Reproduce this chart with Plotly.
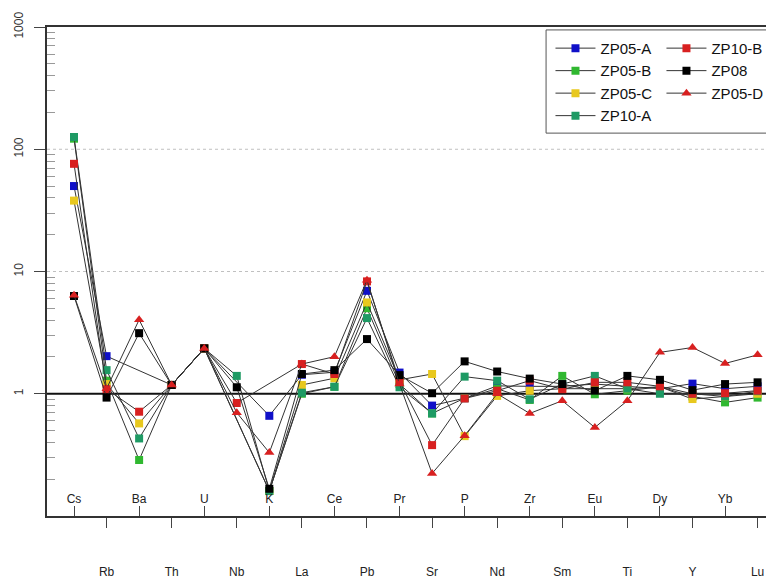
import plotly.graph_objects as go

elements = ["Cs", "Rb", "Ba", "Th", "U", "Nb", "K", "La", "Ce", "Pb", "Pr",
            "Sr", "P", "Nd", "Zr", "Sm", "Eu", "Ti", "Dy", "Y", "Yb", "Lu"]

zp05_a = [50, 2.03, None, 1.18, 2.35, None, 0.66, 1.43, 1.50, 6.95, 1.49,
          0.80, 0.92, 1.16, 1.15, 1.15, 1.20, 1.15, 1.10, 1.21, 1.10, 1.15]
zp05_b = [122, 1.28, 0.287, 1.18, 2.35, None, 0.16, 1.00, 1.14, 5.00, 1.20,
          0.69, 0.92, 1.10, 0.89, 1.40, 0.99, 1.06, 1.14, 0.95, 0.85, 0.93]
zp05_c = [38, 1.20, 0.572, 1.18, 2.35, None, 0.16, 1.18, 1.34, 5.58, 1.30,
          1.45, 0.45, 0.96, 1.06, 1.10, 1.10, 1.10, 1.14, 0.905, 0.95, 1.00]
zp10_a = [126, 1.56, 0.431, 1.18, 2.35, 1.40, 0.16, 1.02, 1.14, 4.16, 1.13,
          0.69, 1.38, 1.28, 0.90, 1.20, 1.40, 1.10, 1.00, 1.00, 0.95, 1.05]
zp10_b = [76, 1.09, 0.713, 1.18, 2.35, 0.84, None, 1.75, 1.45, 8.30, 1.26,
          0.38, 0.915, 1.06, 1.28, 1.09, 1.24, 1.24, 1.15, 1.00, 1.01, 1.06]
zp08 = [6.3, 0.93, 3.13, 1.18, 2.35, 1.13, 0.167, 1.45, 1.56, 2.80, 1.42,
        1.01, 1.84, 1.52, 1.33, 1.20, 1.06, 1.40, 1.30, 1.07, 1.20, 1.24]
zp05_d = [6.4, 1.10, 4.03, 1.18, 2.35, 0.70, 0.33, 1.75, 2.01, 8.50, 1.20,
          0.223, 0.454, 1.00, 0.69, 0.877, 0.53, 0.877, 2.18, 2.39, 1.77, 2.08]

y_ticks = [0.1, 1, 10, 100, 1000]
y_tick_text = ["0.1", "1", "10", "100", "1000"]
dotted_grid = [10, 100]
reference_level = 1

series = [
    ("ZP05-A", zp05_a, "#1010C8", "square", "legend"),
    ("ZP05-B", zp05_b, "#30B830", "square", "legend"),
    ("ZP05-C", zp05_c, "#E8C81E", "square", "legend"),
    ("ZP10-A", zp10_a, "#1E9A64", "square", "legend"),
    ("ZP10-B", zp10_b, "#D82020", "square", "legend2"),
    ("ZP08", zp08, "#000000", "square", "legend2"),
    ("ZP05-D", zp05_d, "#D82020", "triangle-up", "legend2"),
]

idx = list(range(len(elements)))

fig = go.Figure()
for name, vals, col, sym, leg in series:
    fig.add_trace(go.Scatter(
        x=idx, y=vals, name=name, mode="lines+markers", connectgaps=True,
        line=dict(color="#333333", width=1),
        marker=dict(color=col, symbol=sym, size=9 if sym != "square" else 8,
                    line=dict(width=0)),
        legend=leg,
    ))

minor_vals = []
for dec in [0.1, 1, 10, 100]:
    for m in range(2, 10):
        minor_vals.append(dec * m)

odd_idx = [i for i in idx if i % 2 == 1]
even_idx = [i for i in idx if i % 2 == 0]

lab_font = dict(family="Liberation Sans Narrow, Liberation Sans, Arial", size=12, color="#222222")
leg_font = dict(family="Liberation Sans, Arial", size=15, color="#111111")

shapes = [
    dict(type="line", xref="paper", x0=0, x1=1, yref="y", y0=g, y1=g,
         line=dict(color="#C0C0C0", width=1, dash="dot"), layer="below")
    for g in dotted_grid
]
shapes.append(dict(type="line", xref="paper", x0=0, x1=1, yref="y",
                   y0=reference_level, y1=reference_level,
                   line=dict(color="#111111", width=2), layer="below"))
shapes.append(dict(type="rect", xref="paper", x0=0.679, x1=1.02, yref="paper",
                   y0=0.783, y1=0.994, line=dict(color="#555555", width=1),
                   fillcolor="white", layer="below"))

# the page body adds an 8px offset; margins compensate for it
fig.update_layout(
    width=774, height=579,
    margin=dict(l=39, r=0, t=19, b=71),
    paper_bgcolor="white", plot_bgcolor="white",
    font=dict(family="Liberation Sans, Arial", color="#222222"),
    xaxis=dict(
        range=[-0.83, 21.75], tickmode="array", tickvals=odd_idx,
        ticktext=[elements[i] for i in odd_idx],
        ticks="outside", ticklen=10, tickcolor="#444444", tickwidth=1,
        showgrid=False, zeroline=False, showline=True, linecolor="#333333",
        linewidth=2, mirror=True, tickfont=lab_font, ticklabelstandoff=34,
        automargin=False,
    ),
    xaxis2=dict(
        overlaying="x", matches="x", anchor="y", side="bottom",
        tickmode="array", tickvals=even_idx,
        ticktext=[elements[i] for i in even_idx],
        ticks="inside", ticklen=10, tickcolor="#444444", tickwidth=1,
        ticklabelposition="inside", showgrid=False, zeroline=False,
        showline=False, tickfont=lab_font, automargin=False,
    ),
    yaxis=dict(
        type="log", range=[-1, 3], tickmode="array", tickvals=y_ticks,
        ticktext=y_tick_text, tickangle=-90, ticks="outside", ticklen=11,
        tickcolor="#444444", showline=True, linecolor="#333333", linewidth=2,
        showgrid=False, zeroline=False,
        tickfont=dict(family="Liberation Sans, Arial", size=12, color="#333333"),
        ticklabelstandoff=6, automargin=False,
        minor=dict(tickmode="array", tickvals=minor_vals, ticks="inside",
                   ticklen=8, tickcolor="#999999", showgrid=False),
    ),
    legend=dict(x=0.685, y=0.99, xanchor="left", yanchor="top",
                bgcolor="rgba(0,0,0,0)", borderwidth=0, font=leg_font,
                tracegroupgap=0, itemwidth=40),
    legend2=dict(x=0.836, y=0.99, xanchor="left", yanchor="top",
                 bgcolor="rgba(0,0,0,0)", borderwidth=0, font=leg_font,
                 tracegroupgap=0, itemwidth=40),
    showlegend=True,
    shapes=shapes,
)

# attach an invisible trace to xaxis2 so its ticks render
fig.add_trace(go.Scatter(x=[0], y=[1], xaxis="x2", mode="markers",
                         marker=dict(opacity=0), showlegend=False, hoverinfo="skip"))

fig.write_html("out.html")
